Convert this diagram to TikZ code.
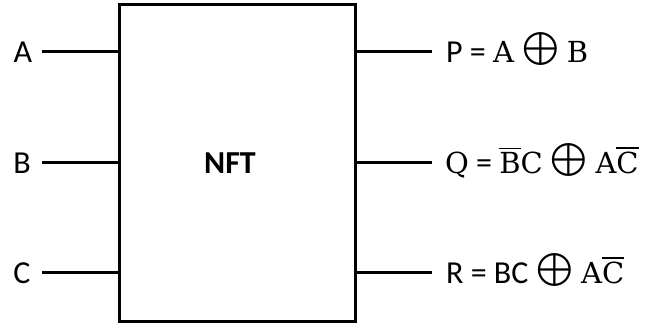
\documentclass[tikz,border=0pt]{standalone}
\usepackage{graphicx}
\usepackage{fontspec}
\setmainfont{Carlito}
\newfontfamily\serifmath{DejaVu Serif}
% large circled plus between the two operands
\newcommand{\xorsym}{\hspace{8pt}\raisebox{-7pt}[16pt][4pt]{\scalebox{3.3}{$\bigoplus$}}\hspace{8pt}}
\newcommand{\ovl}[1]{\vbox{\hrule height 1.6pt\kern 3.5pt\hbox{#1}}}
\newcommand{\sm}[1]{{\serifmath\fontsize{29}{34}\selectfont #1}}
\begin{document}
\begin{tikzpicture}[x=1pt,y=1pt,
  wire/.style={line width=3pt},
  lbl/.style={inner sep=0pt, font=\fontsize{32}{38}\selectfont},
  outlbl/.style={lbl, anchor=base west}]
\useasboundingbox (0,0) rectangle (647,326);
% block
\draw[line width=3pt] (119,4) rectangle (355,321);
\node[lbl, font=\fontsize{32}{38}\selectfont\bfseries] (nft) at (230,163) {NFT};
% input ports
\coordinate (ia) at (119,274);
\coordinate (ib) at (119,163);
\coordinate (ic) at (119,53);
\node[lbl] (a) at (23,274) {A};
\node[lbl] (b) at (22,163) {B};
\node[lbl] (c) at (22,53) {C};
\draw[wire] (42,274) -- (ia);
\draw[wire] (42,163) -- (ib);
\draw[wire] (42,53) -- (ic);
% output ports
\coordinate (op) at (355,274);
\coordinate (oq) at (355,163);
\coordinate (or) at (355,53);
\node[outlbl] (p) at (446,263) {P = \sm{A}\xorsym\sm{B}};
\node[outlbl] (q) at (445,152) {\sm{Q} = \ovl{\sm{B}}\sm{C}\xorsym\sm{A}\ovl{\sm{C}}};
\node[outlbl] (r) at (446,42) {R = BC\xorsym\sm{A}\ovl{\sm{C}}};
\draw[wire] (op) -- (432,274);
\draw[wire] (oq) -- (432,163);
\draw[wire] (or) -- (432,53);
\end{tikzpicture}
\end{document}
